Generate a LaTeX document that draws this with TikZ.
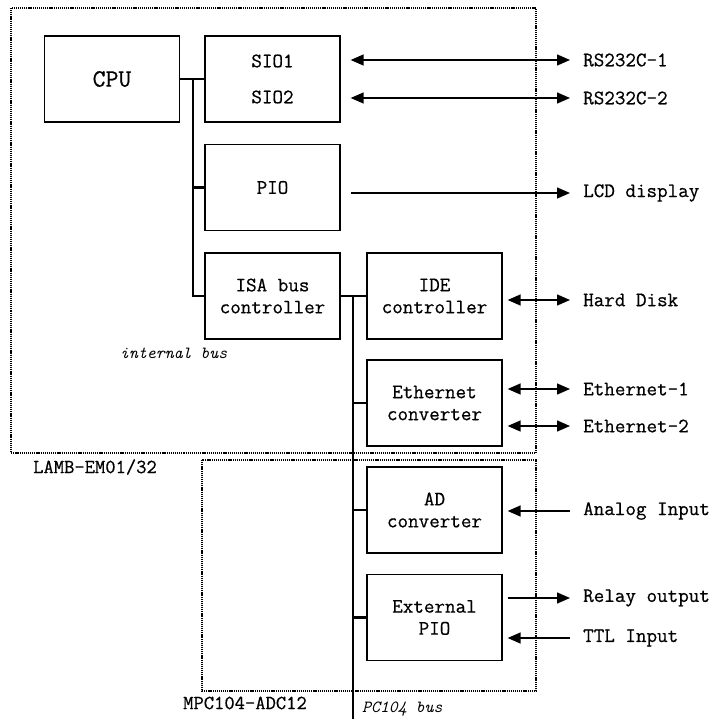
\documentclass[tikz,border=0pt]{standalone}
\usepackage{fontspec}
\newfontfamily\mymono[FakeBold=0.6]{Latin Modern Mono}
\usetikzlibrary{arrows.meta}
\begin{document}
\begin{tikzpicture}[x=1pt,y=-1pt,
 box/.style={draw,line width=1.3pt,minimum width=135pt,minimum height=86pt,inner sep=0pt,align=center,font=\mymono\fontsize{20.5}{22}\selectfont},
 bus/.style={line width=2.8pt},
 tipr/.style={line width=1.4pt,-{Triangle[length=13pt,width=11pt]}},
 tipl/.style={line width=1.4pt,{Triangle[length=13pt,width=11pt]}-},
 tipb/.style={line width=1.4pt,{Triangle[length=13pt,width=11pt]}-{Triangle[length=13pt,width=11pt]}},
 ext/.style={anchor=west,inner sep=0pt,font=\mymono\fontsize{20.5}{22}\selectfont},
 frame/.style={line width=1.3pt,dash pattern=on 1.2pt off 0.9pt},
 ital/.style={anchor=west,inner sep=0pt,font=\ttfamily\itshape\fontsize{17}{19}\selectfont},
 plain/.style={anchor=west,inner sep=0pt,font=\mymono\fontsize{20}{22}\selectfont}
]
\useasboundingbox (0,0) rectangle (716,719);

% dotted frames
\draw[frame] (11,8) rectangle (536,453);
\draw[frame] (202,460) rectangle (536,691);
\node[plain] (lamb) at (33,467) {LAMB-EM01/32};
\node[plain] (mpc) at (183,703) {MPC104-ADC12};

% boxes
\node[box,font=\mymono\fontsize{25}{27}\selectfont] (cpu) at (112,79) {CPU};
\node[box] (sio) at (272.5,79) {SIO1\\[14pt]SIO2};
\node[box] (pio) at (272.5,187.5) {PIO};
\node[box] (isa) at (272.5,296) {ISA bus\\controller};
\node[box] (ide) at (434.5,296) {IDE\\controller};
\node[box] (eth) at (434.5,403) {Ethernet\\converter};
\node[box] (ad) at (434.5,510) {AD\\converter};
\node[box] (epio) at (434.5,617.5) {External\\PIO};

% internal bus
\coordinate (ib) at (193,79);
\draw[bus] (cpu.east) -- (sio.west);
\draw[bus] (ib) |- (pio.west);
\draw[bus] (ib) |- (isa.west);
\node[ital] (ibl) at (120,353) {internal bus};

% PC104 bus
\coordinate (pct) at (353,296);
\coordinate (pcb) at (353,719);
\draw[bus] (isa.east) -- (ide.west);
\draw[bus] (pct) -- (pcb);
\draw[bus] (pct |- eth.west) -- (eth.west);
\draw[bus] (pct |- ad.west) -- (ad.west);
\draw[bus] (pct |- epio.west) -- (epio.west);
\node[ital] (pcl) at (362,709) {PC104 bus};

% external labels
\node[ext] (rs1) at (583,60) {RS232C-1};
\node[ext] (rs2) at (583,98) {RS232C-2};
\node[ext] (lcd) at (583,193) {LCD display};
\node[ext] (hd) at (583,300) {Hard Disk};
\node[ext] (e1) at (583,389) {Ethernet-1};
\node[ext] (e2) at (583,426) {Ethernet-2};
\node[ext] (ai) at (583,511) {Analog Input};
\node[ext] (ro) at (583,598) {Relay output};
\node[ext] (ttl) at (583,638) {TTL Input};

% signal arrows
\draw[tipb] ([xshift=10pt]sio.east |- rs1.west) -- ([xshift=-13pt]rs1.west);
\draw[tipb] ([xshift=10pt]sio.east |- rs2.west) -- ([xshift=-13pt]rs2.west);
\draw[tipr] ([xshift=10pt]pio.east |- lcd.west) -- ([xshift=-13pt]lcd.west);
\draw[tipb] ([xshift=5pt]ide.east |- hd.west) -- ([xshift=-13pt]hd.west);
\draw[tipb] ([xshift=5pt]eth.east |- e1.west) -- ([xshift=-13pt]e1.west);
\draw[tipb] ([xshift=5pt]eth.east |- e2.west) -- ([xshift=-13pt]e2.west);
\draw[tipl] ([xshift=5pt]ad.east |- ai.west) -- ([xshift=-13pt]ai.west);
\draw[tipr] ([xshift=5pt]epio.east |- ro.west) -- ([xshift=-13pt]ro.west);
\draw[tipl] ([xshift=5pt]epio.east |- ttl.west) -- ([xshift=-13pt]ttl.west);
\end{tikzpicture}
\end{document}
